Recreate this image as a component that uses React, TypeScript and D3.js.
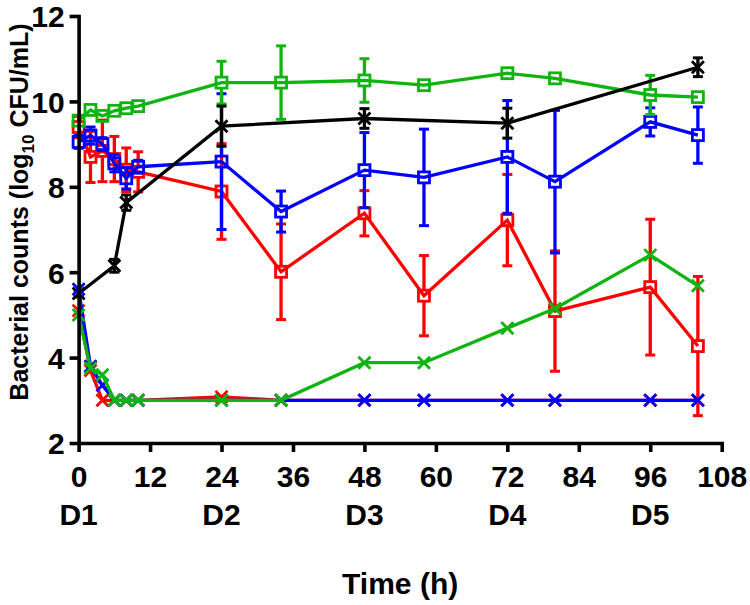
import React, { useEffect, useRef } from 'react';
import * as d3 from 'd3';

// sampling times (h)
const times = [0, 2, 4, 6, 8, 10, 24, 34, 48, 58, 72, 80, 96, 104];

// open-square series (high inoculum)
const redSq = [9.4, 8.7, 8.84, 8.65, 8.4, 8.35, 7.89, 6.01, 7.38, 5.45, 7.22, 5.09, 5.65, 4.27];
const redSqErr = [0.25, 0.6, 0.72, 0.53, 0.51, 0.47, 1.12, 1.12, 0.53, 0.94, 1.07, 1.41, 1.59, 1.63];
const blueSq = [9.05, 9.2, 9.0, 8.55, 8.2, 8.47, 8.59, 7.42, 8.39, 8.22, 8.7, 8.12, 9.52, 9.21];
const blueSqErr = [0.15, 0.2, 0.15, 0.2, 0.25, 0.15, 1.59, 0.48, 0.88, 1.13, 1.32, 1.67, 0.33, 0.66];
const greenSq = [9.55, 9.8, 9.66, 9.78, 9.84, 9.89, 10.44, 10.44, 10.49, 10.38, 10.66, 10.54, 10.15, 10.1];
const greenSqErr = [0.1, 0.1, 0.08, 0.05, 0.05, 0.05, 0.5, 0.86, 0.51, 0.08, 0.08, 0.08, 0.46, 0.1];

// cross series (low inoculum)
const redX = [5.1, 3.7, 3.0, 3.0, 3.0, 3.0, 3.08, 3.0, 3.0, 3.0, 3.0, 3.0, 3.0, 3.0];
const blueX = [5.6, 3.8, 3.35, 3.0, 3.0, 3.0, 3.0, 3.0, 3.0, 3.0, 3.0, 3.0, 3.0, 3.0];
const greenX = [5.0, 3.75, 3.6, 3.0, 3.0, 3.0, 3.0, 3.0, 3.88, 3.88, 4.69, 5.15, 6.4, 5.68];

// growth control
const blackTimes = [0, 6, 8, 24, 48, 72, 104];
const blackX = [5.5, 6.15, 7.63, 9.42, 9.6, 9.49, 10.8];
const blackErr = [0.08, 0.15, 0.18, 0.47, 0.23, 0.35, 0.22];

const xTicks = [0, 12, 24, 36, 48, 60, 72, 84, 96, 108];
const yTicks = [2, 4, 6, 8, 10, 12];
const dayTimes = [0, 24, 48, 72, 96];
const dayLabels = ['D1', 'D2', 'D3', 'D4', 'D5'];

const RED = '#ff0000';
const BLUE = '#0000ff';
const GREEN = '#10b410';
const BLACK = '#000000';

const App = () => {
  const svgRef = useRef(null);

  useEffect(() => {
    const svg = d3.select(svgRef.current);
    svg.selectAll('*').remove();

    const width = 750;
    const height = 605;
    const font = '"Liberation Sans", Arial, sans-serif';

    const x = d3.scaleLinear().domain([0, 108]).range([78.6, 721.7]);
    const y = d3.scaleLinear().domain([2, 12]).range([443, 16]);

    svg.attr('width', width).attr('height', height);

    const series = [
      { t: times, v: redSq, e: redSqErr, color: RED, marker: 'square' },
      { t: times, v: blueSq, e: blueSqErr, color: BLUE, marker: 'square' },
      { t: times, v: greenSq, e: greenSqErr, color: GREEN, marker: 'square' },
      { t: blackTimes, v: blackX, e: blackErr, color: BLACK, marker: 'cross' },
      { t: times, v: redX, e: null, color: RED, marker: 'cross' },
      { t: times, v: blueX, e: null, color: BLUE, marker: 'cross' },
      { t: times, v: greenX, e: null, color: GREEN, marker: 'cross' },
    ];

    const line = d3.line<number[]>()
      .x(d => d[0])
      .y(d => d[1]);

    const half = 6;
    const capW = 5;
    const lw = 3.3;

    series.forEach(s => {
      const g = svg.append('g');
      const pts = s.t.map((t, i) => [x(t), y(s.v[i])]);

      g.append('path')
        .attr('d', line(pts))
        .attr('fill', 'none')
        .attr('stroke', s.color)
        .attr('stroke-width', lw);

      if (s.e) {
        s.t.forEach((t, i) => {
          const cx = x(t);
          const cy = y(s.v[i]);
          const top = y(s.v[i] + s.e[i]);
          const bot = y(s.v[i] - s.e[i]);
          const gap = s.marker === 'square' ? half : 0;
          if (cy - gap > top) {
            g.append('line').attr('x1', cx).attr('x2', cx).attr('y1', cy - gap).attr('y2', top)
              .attr('stroke', s.color).attr('stroke-width', lw);
            g.append('line').attr('x1', cx - capW).attr('x2', cx + capW).attr('y1', top).attr('y2', top)
              .attr('stroke', s.color).attr('stroke-width', 3);
          }
          if (bot > cy + gap) {
            g.append('line').attr('x1', cx).attr('x2', cx).attr('y1', cy + gap).attr('y2', bot)
              .attr('stroke', s.color).attr('stroke-width', lw);
            g.append('line').attr('x1', cx - capW).attr('x2', cx + capW).attr('y1', bot).attr('y2', bot)
              .attr('stroke', s.color).attr('stroke-width', 3);
          }
        });
      }

      pts.forEach(([cx, cy]) => {
        if (s.marker === 'square') {
          g.append('rect')
            .attr('x', cx - half + 0.5).attr('y', cy - half + 0.5)
            .attr('width', half * 2 - 1).attr('height', half * 2 - 1)
            .attr('fill', 'none')
            .attr('stroke', s.color)
            .attr('stroke-width', 2.8);
        } else {
          const r = 6;
          g.append('path')
            .attr('d', `M${cx - r},${cy - r}L${cx + r},${cy + r}M${cx - r},${cy + r}L${cx + r},${cy - r}`)
            .attr('stroke', s.color)
            .attr('stroke-width', 2.8)
            .attr('fill', 'none');
        }
      });
    });

    // axes
    const xAxis = svg.append('g')
      .attr('transform', `translate(0, ${y(2)})`)
      .call(d3.axisBottom(x).tickValues(xTicks).tickSize(9).tickSizeOuter(0).tickPadding(14));
    const yAxis = svg.append('g')
      .attr('transform', `translate(${x(0)}, 0)`)
      .call(d3.axisLeft(y).tickValues(yTicks).tickSize(9).tickSizeOuter(0).tickPadding(5));

    [xAxis, yAxis].forEach(a => {
      a.select('.domain').attr('stroke-width', 3.6).attr('stroke-linecap', 'square');
      a.selectAll('.tick line').attr('stroke-width', 3.6);
      a.selectAll('.tick text')
        .attr('font-family', font)
        .attr('font-weight', 'bold')
        .attr('font-size', 30)
        .attr('fill', BLACK);
    });
    yAxis.selectAll('.tick text').attr('dy', '0.36em');

    svg.append('g')
      .selectAll('text')
      .data(dayLabels)
      .enter()
      .append('text')
      .attr('x', (d, i) => x(dayTimes[i]))
      .attr('y', 525)
      .attr('text-anchor', 'middle')
      .attr('font-family', font)
      .attr('font-weight', 'bold')
      .attr('font-size', 30)
      .text(d => d);

    svg.append('text')
      .attr('x', (x(0) + x(108)) / 2)
      .attr('y', 594)
      .attr('text-anchor', 'middle')
      .attr('font-family', font)
      .attr('font-weight', 'bold')
      .attr('font-size', 30)
      .text('Time (h)');

    const yTitle = svg.append('text')
      .attr('transform', 'translate(28, 212) rotate(-90)')
      .attr('text-anchor', 'middle')
      .attr('font-family', font)
      .attr('font-weight', 'bold')
      .attr('font-size', 25);
    yTitle.append('tspan').text('Bacterial counts (log');
    yTitle.append('tspan').attr('font-size', 17).attr('dy', 6).text('10');
    yTitle.append('tspan').attr('dy', -6).text(' CFU/mL)');
  }, []);

  return (
    <svg
      ref={svgRef}
      style={{ position: 'absolute', left: 0, top: 0, display: 'block', background: '#fff' }}
    ></svg>
  );
};

export default App;
